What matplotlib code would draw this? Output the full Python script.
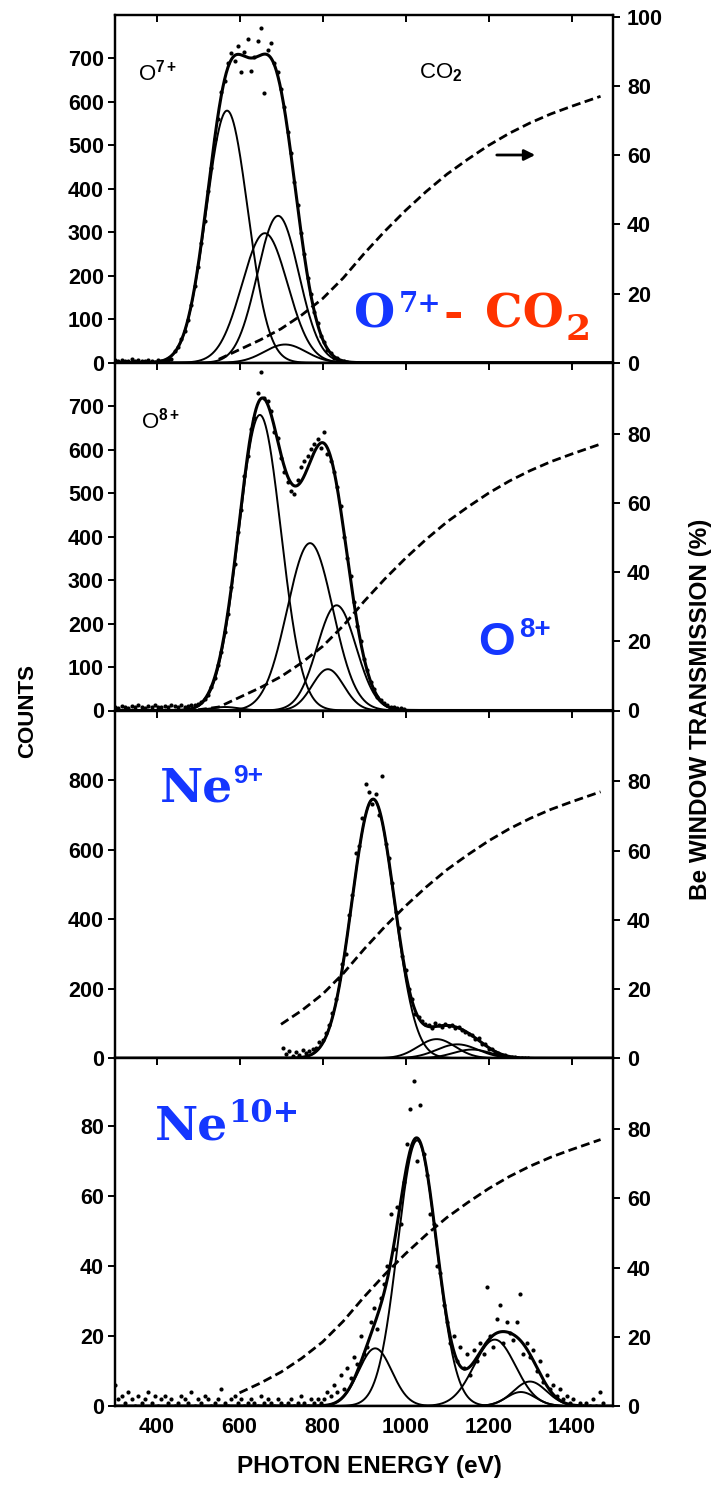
import matplotlib
matplotlib.use("Agg")
import matplotlib.pyplot as plt
import numpy as np

plt.rcParams["font.family"] = "Liberation Sans"
plt.rcParams["font.weight"] = "bold"
plt.rcParams["mathtext.fontset"] = "custom"
plt.rcParams["mathtext.rm"] = "Liberation Sans"
plt.rcParams["mathtext.it"] = "Liberation Sans:italic"
plt.rcParams["mathtext.bf"] = "Liberation Sans:bold"

W, H = 720, 1486
BLUE = "#1436ff"
RED = "#ff3300"

# photon energy axis (eV)
E_MIN, E_MAX = 300, 1500
E_TICKS = [400, 600, 800, 1000, 1200, 1400]

# Be window transmission (%), same curve in every panel
TRANS_E = [500, 550, 600, 650, 700, 750, 800, 850, 900, 950, 1000, 1050,
           1100, 1150, 1200, 1250, 1300, 1350, 1400, 1470]
TRANS_P = [0.2, 1.0, 3.8, 6.6, 9.8, 13.8, 18.5, 24.5, 31.5, 38.0, 44.0, 49.5,
           54.5, 58.8, 62.8, 66.3, 69.3, 71.9, 74.1, 77.0]

# fitted gaussian components: centre (eV), height (counts), sigma (eV)
O7_CENTRES = [570, 661, 693, 710]
O7_HEIGHTS = [580, 298, 338, 42]
O7_SIGMAS = [50, 55, 50, 50]

O8_CENTRES = [565, 649, 770, 834, 813]
O8_HEIGHTS = [8, 680, 385, 242, 95]
O8_SIGMAS = [35, 51, 55, 47, 38]

NE9_CENTRES = [922, 1075, 1125, 1160]
NE9_HEIGHTS = [745, 55, 40, 25]
NE9_SIGMAS = [51, 45, 50, 45]

NE10_CENTRES = [1028, 927, 1215, 1300, 1278]
NE10_HEIGHTS = [76, 16.5, 19, 7, 4]
NE10_SIGMAS = [47, 40, 50, 40, 35]

# measured counts, one channel every 8 eV from the start energy
CHANNEL = 8
O7_START = 300
O7_COUNTS = [7, 4, 6, 3, 5, 8, 4, 6, 3, 5, 7, 4, 2, 6, 5, 3, 6, 8,
             27, 36, 54, 73, 99, 133, 176, 221, 276, 327,
             394, 448, 514, 560, 622, 648, 690, 712, 695, 728,
             668, 715, 745, 672, 704, 740, 771, 620, 720, 735,
             690, 668, 630, 588, 530, 482, 416, 362, 298, 251,
             196, 158, 116, 92, 62, 48, 30, 23, 12, 10,
             5, 4, 2]

O8_START = 300
O8_COUNTS = [9, 6, 11, 8, 5, 10, 7, 12, 9, 6, 10, 8, 13, 7, 9, 11, 8, 12,
             10, 8, 12, 9, 11, 12,
             13, 15, 19, 27, 36, 55, 74, 105, 134, 181,
             222, 285, 338, 410, 462, 540, 585, 648, 672, 730,
             778, 720, 712, 690, 640, 628, 580, 548, 526, 505,
             498, 530, 560, 575, 585, 602, 612, 625, 605, 640,
             590, 575, 548, 515, 470, 398, 350, 310, 250, 195,
             160, 118, 94, 66, 50, 31, 24, 17, 12, 9,
             8, 6, 5, 4]

NE9_START = 704
NE9_COUNTS = [30, 12, 22, 6, 18, 9, 25, 14, 20, 28,
              30, 48, 52, 72, 95, 130, 170, 228, 270, 300,
              412, 470, 590, 610, 690, 790, 765, 730, 760, 700,
              811, 615, 575, 505, 420, 375, 295, 255, 198, 170,
              128, 118, 108, 98, 95, 88, 102, 96, 90, 99,
              92, 96, 86, 90, 80, 76, 70, 68, 55, 58,
              40, 42, 28, 27, 18, 16, 10, 9, 5, 4,
              3, 2, 1, 1, 0]

NE10_START = 300
NE10_COUNTS = [6, 2, 3, 1, 4, 2, 0, 3, 1, 2,
               4, 1, 3, 0, 2, 3, 1, 2, 0, 1,
               3, 2, 1, 4, 0, 2, 1, 3, 2, 0,
               1, 2, 5, 1, 0, 2, 3, 1, 2, 0,
               1, 2, 1, 0, 3, 1, 2, 1, 0, 2,
               1, 0, 1, 2, 0, 1, 3, 1, 0, 2,
               1, 2, 1,
               2, 4, 3, 6, 4, 9, 5, 11, 8, 14,
               12, 20, 15, 17, 24, 28, 22, 31, 35, 40,
               55, 45, 57, 52, 64, 75, 85, 93, 70, 86,
               72, 66, 55, 52, 40, 38, 29, 24, 18, 20,
               13, 17, 11, 15, 9, 16, 13, 18, 15, 34,
               20, 17, 25, 29, 18, 24, 21, 19, 24, 32,
               15, 18, 14, 16, 10, 13, 7, 9, 5, 6,
               3, 5, 2, 3, 1, 2, 0, 1, 0, 1,
               0, 2, 0, 4, 1]


def gauss(e, centre, height, sigma):
    return height * np.exp(-0.5 * ((e - centre) / sigma) ** 2)


panels = [
    dict(centres=O7_CENTRES, heights=O7_HEIGHTS, sigmas=O7_SIGMAS,
         start=O7_START, counts=O7_COUNTS, ymax=800,
         yticks=range(0, 800, 100), rticks=range(0, 101, 20), tstart=550),
    dict(centres=O8_CENTRES, heights=O8_HEIGHTS, sigmas=O8_SIGMAS,
         start=O8_START, counts=O8_COUNTS, ymax=800,
         yticks=range(0, 800, 100), rticks=range(0, 81, 20), tstart=500),
    dict(centres=NE9_CENTRES, heights=NE9_HEIGHTS, sigmas=NE9_SIGMAS,
         start=NE9_START, counts=NE9_COUNTS, ymax=1000,
         yticks=range(0, 801, 200), rticks=range(0, 81, 20), tstart=700),
    dict(centres=NE10_CENTRES, heights=NE10_HEIGHTS, sigmas=NE10_SIGMAS,
         start=NE10_START, counts=NE10_COUNTS, ymax=99.5,
         yticks=range(0, 81, 20), rticks=range(0, 81, 20), tstart=600),
]

fig = plt.figure(figsize=(W / 100, H / 100), dpi=100)
gs = fig.add_gridspec(4, 1, left=115 / W, right=613 / W,
                      top=1 - 15 / H, bottom=1 - 1406 / H, hspace=0)

e = np.linspace(E_MIN, E_MAX, 1201)
trans_e = np.array(TRANS_E)
trans_p = np.array(TRANS_P)
axes = []

for i, p in enumerate(panels):
    ax = fig.add_subplot(gs[i])
    comps = [gauss(e, c, a, s) for c, a, s in zip(p["centres"], p["heights"], p["sigmas"])]
    for comp in comps:
        ax.plot(e, comp, color="black", lw=1.4)
    ax.plot(e, np.sum(comps, axis=0), color="black", lw=2.2)

    counts = np.array(p["counts"])
    chan_e = p["start"] + CHANNEL * np.arange(len(counts))
    ax.plot(chan_e, counts, "o", ms=3, color="black", mec="none")

    ax.set_xlim(E_MIN, E_MAX)
    ax.set_ylim(0, p["ymax"])
    ax.set_xticks(E_TICKS)
    ax.set_yticks(list(p["yticks"]))
    ax.tick_params(axis="y", direction="out", length=5, width=1.4, labelsize=15.5, pad=3)
    ax.tick_params(axis="x", direction="in", length=5, width=1.4, top=True,
                   bottom=False, labelbottom=(i == 3), labelsize=15.5, pad=8)

    ax2 = ax.twinx()
    keep = trans_e >= p["tstart"]
    ax2.plot(trans_e[keep], trans_p[keep], color="black", lw=2.0,
             ls=(0, (3.2, 1.6)))
    ax2.set_ylim(0, 100.5)
    ax2.set_yticks(list(p["rticks"]))
    ax2.tick_params(axis="y", direction="out", length=5, width=1.4, labelsize=15.5, pad=5)

    for a in (ax, ax2):
        for sp in a.spines.values():
            sp.set_linewidth(1.6)
    axes.append(ax)


def put(ax, s, x, y, size, color="black", family="Liberation Sans", weight="bold"):
    # x, y in pixels from the top left of the picture, y is the baseline
    ax.annotate(s, xy=(x, H - y), xycoords="figure pixels", ha="left", va="baseline",
                fontsize=size, color=color, family=family, fontweight=weight,
                annotation_clip=False)


# small panel labels
put(axes[0], r"O$^{7+}$", 138, 81, 16, weight="normal")
put(axes[0], r"CO$_2$", 419, 78, 16, weight="normal")
put(axes[1], r"O$^{8+}$", 141, 428, 16, weight="normal")

# arrow pointing at the right hand scale
axes[0].annotate("", xy=(538, H - 155), xycoords="figure pixels",
                 xytext=(494, H - 155), textcoords="figure pixels",
                 arrowprops=dict(arrowstyle="-|>", lw=2, color="black", mutation_scale=16))

# big coloured labels
put(axes[0], "O", 354, 327, 34, BLUE, "DejaVu Serif")
put(axes[0], "7+", 399, 312, 20, BLUE, "DejaVu Serif")
put(axes[0], "-", 444, 327, 34, RED, "DejaVu Serif")
put(axes[0], "CO", 485, 327, 34, RED, "DejaVu Serif")
put(axes[0], "2", 566, 340, 26, RED, "DejaVu Serif")

put(axes[1], "O", 478, 655, 34, BLUE)
put(axes[1], "8+", 519, 637, 20, BLUE)

put(axes[2], "Ne", 160, 802, 34, BLUE, "DejaVu Serif")
put(axes[2], "9+", 233, 783, 19, BLUE)

put(axes[3], "Ne", 155, 1140, 34, BLUE, "DejaVu Serif")
put(axes[3], "10+", 228, 1122, 23, BLUE, "DejaVu Serif")

# axis titles
fig.text(28 / W, 1 - 711 / H, "COUNTS", rotation=90, ha="center", va="center",
         fontsize=16, fontweight="bold")
fig.text(700 / W, 1 - 709 / H, "Be WINDOW TRANSMISSION (%)", rotation=90,
         ha="center", va="center", fontsize=17.5, fontweight="bold")
fig.text(369 / W, 1 - 1466 / H, "PHOTON ENERGY (eV)", ha="center", va="center",
         fontsize=17.5, fontweight="bold")

fig.savefig("out.png", dpi=100)
